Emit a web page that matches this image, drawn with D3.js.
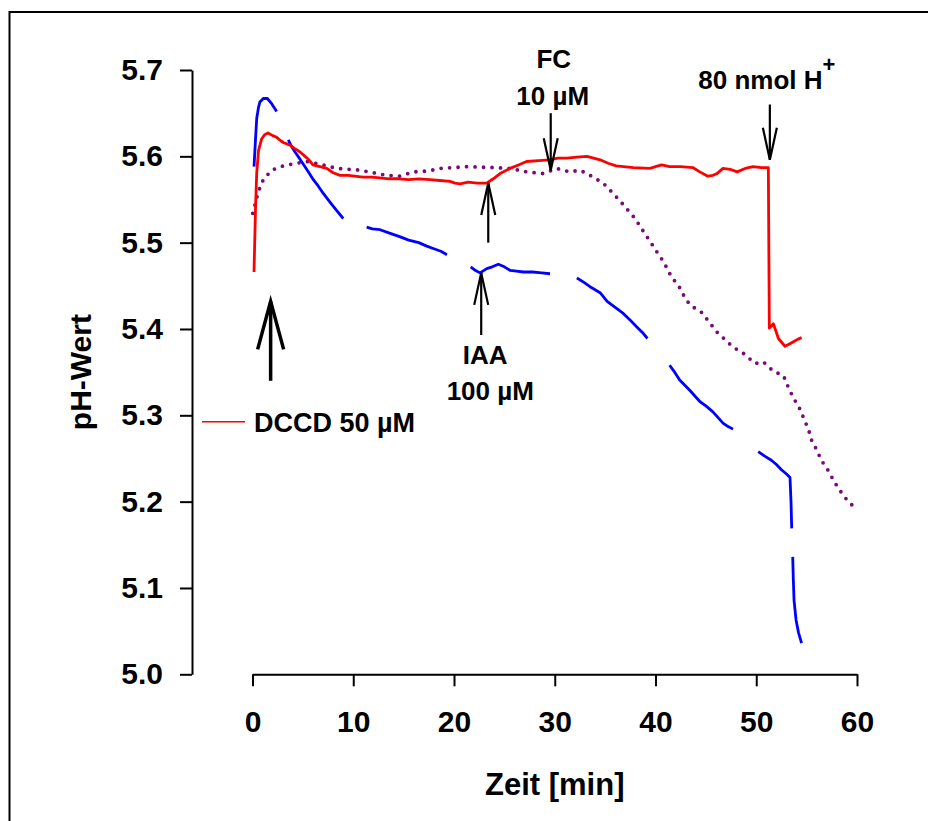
<!DOCTYPE html>
<html>
<head>
<meta charset="utf-8">
<script src="https://cdn.jsdelivr.net/npm/d3@7"></script>
<style>
  html, body { margin: 0; padding: 0; background: #fff; }
  svg { display: block; }
  text { font-family: "Liberation Sans", Arial, Helvetica, sans-serif; font-weight: bold; fill: #000; }
</style>
</head>
<body>
<svg id="chart" width="928" height="821"></svg>
<script>
// Time axis (min) and pH axis ticks
const timeTicks = [0, 10, 20, 30, 40, 50, 60];
const phTicks = [5.0, 5.1, 5.2, 5.3, 5.4, 5.5, 5.6, 5.7];

// DCCD 50 µM trace (red): [time, pH]
const dccd = [
  [0.15, 5.466], [0.30, 5.540], [0.42, 5.581], [0.60, 5.607], [0.90, 5.620],
  [1.20, 5.625], [1.54, 5.627], [2.00, 5.624], [2.40, 5.622], [2.80, 5.618],
  [3.06, 5.616], [3.72, 5.613], [4.20, 5.609], [4.72, 5.605], [5.21, 5.600],
  [5.60, 5.596], [6.00, 5.590], [6.70, 5.588], [7.37, 5.586], [8.00, 5.581],
  [8.69, 5.578], [9.50, 5.578], [10.97, 5.576], [11.8, 5.576], [12.65, 5.575],
  [13.5, 5.574], [14.5, 5.574], [15.5, 5.573], [16.5, 5.574], [17.6, 5.573],
  [18.6, 5.572], [19.6, 5.571], [20.1, 5.569], [20.6, 5.568], [21.4, 5.570],
  [22.3, 5.569], [23.25, 5.569], [23.9, 5.574], [24.57, 5.580], [25.56, 5.586],
  [26.4, 5.590], [27.2, 5.594], [28.4, 5.595], [29.5, 5.596], [30.3, 5.598],
  [31.2, 5.598], [32.2, 5.599], [33.2, 5.600], [34.5, 5.596], [35.3, 5.592],
  [36.1, 5.589], [37.8, 5.587], [39.45, 5.586], [40.0, 5.588], [40.6, 5.590],
  [41.4, 5.588], [42.5, 5.588], [43.7, 5.587], [44.4, 5.582], [45.2, 5.577],
  [45.7, 5.578], [46.1, 5.580], [46.7, 5.586], [47.4, 5.585], [48.1, 5.582],
  [48.9, 5.586], [49.7, 5.588], [50.5, 5.587], [51.2, 5.587], [51.3, 5.401],
  [51.7, 5.406], [52.0, 5.396], [52.2, 5.389], [52.85, 5.380], [53.2, 5.382],
  [53.65, 5.385], [54.1, 5.388], [54.5, 5.390]
];

// Control trace (blue), recorded in separate pieces: [time, pH]
const controlSegments = [
  [[0.15, 5.588], [0.30, 5.620], [0.42, 5.644], [0.60, 5.657], [0.74, 5.663],
   [1.07, 5.667], [1.47, 5.667], [1.90, 5.661], [2.40, 5.652]],
  [[3.55, 5.619], [3.90, 5.611], [4.22, 5.605], [4.70, 5.597], [5.21, 5.588],
   [5.60, 5.581], [6.04, 5.573], [6.50, 5.566], [7.03, 5.557], [7.69, 5.547],
   [8.30, 5.538], [9.01, 5.528]],
  [[11.33, 5.518], [11.9, 5.516], [12.66, 5.515], [13.6, 5.511], [14.6, 5.507],
   [15.5, 5.503], [16.5, 5.500], [17.3, 5.496], [18.0, 5.493], [18.7, 5.490],
   [19.3, 5.486]],
  [[21.66, 5.472], [22.1, 5.468], [22.58, 5.465], [23.25, 5.470], [23.8, 5.472],
   [24.4, 5.475], [25.0, 5.472], [25.56, 5.468], [26.2, 5.467], [26.88, 5.466],
   [27.8, 5.466], [28.7, 5.465], [29.53, 5.464]],
  [[32.2, 5.459], [32.9, 5.454], [33.5, 5.449], [34.5, 5.442], [35.2, 5.432],
   [36.0, 5.425], [36.8, 5.418], [37.5, 5.410], [38.1, 5.403], [38.7, 5.396],
   [39.2, 5.389]],
  [[41.4, 5.358], [41.9, 5.350], [42.4, 5.341], [43.4, 5.329], [44.4, 5.316],
   [45.0, 5.311], [45.7, 5.304], [46.7, 5.291], [47.2, 5.287], [47.7, 5.284]],
  [[50.2, 5.258], [50.8, 5.253], [51.5, 5.248], [52.0, 5.243], [52.5, 5.237],
   [53.0, 5.232], [53.35, 5.228], [53.45, 5.200], [53.52, 5.169]],
  [[53.62, 5.136], [53.68, 5.110], [53.75, 5.086], [53.95, 5.063], [54.2, 5.048],
   [54.5, 5.036]]
];

// IAA trace (purple, dotted): [time, pH]
const iaa = [
  [0.02, 5.534], [0.25, 5.544], [0.58, 5.559], [1.07, 5.573], [1.90, 5.584],
  [3.06, 5.589], [3.89, 5.591], [5.38, 5.594], [6.70, 5.591], [8.36, 5.586],
  [10.67, 5.584], [13.3, 5.578], [14.6, 5.577], [16.0, 5.582], [17.45, 5.583],
  [18.6, 5.586], [21.3, 5.588], [23.9, 5.587], [25.6, 5.586], [27.2, 5.582],
  [28.9, 5.580], [30.2, 5.586], [31.5, 5.582], [32.5, 5.584], [33.5, 5.578],
  [34.8, 5.569], [35.8, 5.557], [36.8, 5.544], [37.97, 5.528], [38.8, 5.513],
  [39.6, 5.499], [40.1, 5.490], [40.8, 5.478], [41.6, 5.460], [42.3, 5.450],
  [42.8, 5.439], [43.4, 5.428], [44.6, 5.419], [45.2, 5.410], [46.2, 5.395],
  [46.7, 5.390], [47.7, 5.379], [48.7, 5.372], [49.9, 5.360], [50.7, 5.362],
  [51.7, 5.351], [52.7, 5.346], [53.2, 5.332], [53.7, 5.320], [54.3, 5.308],
  [54.7, 5.297], [55.2, 5.283], [55.5, 5.271], [56.0, 5.260], [56.5, 5.247],
  [57.0, 5.239], [57.8, 5.222], [58.3, 5.213], [59.0, 5.202], [59.6, 5.195]
];

// Additions marked by arrows: time, tip pH, tail pH
const additions = [
  { t: 1.80,  tip: 5.432, tail: 5.340, dir: "up",   wide: true },
  { t: 22.7,  tip: 5.465, tail: 5.393, dir: "up",   wide: false },
  { t: 23.4,  tip: 5.569, tail: 5.500, dir: "up",   wide: false },
  { t: 29.6,  tip: 5.584, tail: 5.650, dir: "down", wide: false },
  { t: 51.35, tip: 5.596, tail: 5.660, dir: "down", wide: false }
];

const svg = d3.select("#chart");

// Outer frame
svg.append("rect")
  .attr("x", 9.5).attr("y", 12)
  .attr("width", 960).attr("height", 900)
  .attr("fill", "none").attr("stroke", "#000").attr("stroke-width", 2);

const x = d3.scaleLinear().domain([0, 60]).range([252.5, 857]);
const y = d3.scaleLinear().domain([5.0, 5.7]).range([674.3, 70]);

// y axis
const yAxis = svg.append("g")
  .attr("transform", "translate(192,0)")
  .call(d3.axisLeft(y).tickValues(phTicks).tickFormat(d3.format(".1f"))
    .tickSize(12).tickSizeOuter(0).tickPadding(17));

// x axis (offset from the y axis)
const xAxis = svg.append("g")
  .attr("transform", `translate(0,${y(5.0)})`)
  .call(d3.axisBottom(x).tickValues(timeTicks).tickFormat(d3.format("d"))
    .tickSize(12).tickSizeOuter(0).tickPadding(24));

[yAxis, xAxis].forEach(g => {
  g.selectAll("path, line").attr("stroke", "#000").attr("stroke-width", 2);
  g.selectAll("text")
    .style("font-family", '"Liberation Sans", Arial, sans-serif')
    .style("font-weight", "bold")
    .style("font-size", "30px")
    .attr("fill", "#000");
});

// Axis titles
svg.append("text")
  .attr("transform", `translate(91,${(y(5.0) + y(5.7)) / 2}) rotate(-90)`)
  .attr("text-anchor", "middle")
  .style("font-size", "30px")
  .text("pH-Wert");

svg.append("text")
  .attr("x", (x(0) + x(60)) / 2)
  .attr("y", 795)
  .attr("text-anchor", "middle")
  .style("font-size", "31px")
  .text("Zeit [min]");

const line = d3.line().x(d => x(d[0])).y(d => y(d[1]));

// IAA trace, dotted
svg.append("path")
  .datum(iaa)
  .attr("d", line)
  .attr("fill", "none")
  .attr("stroke", "#7a0a7a")
  .attr("stroke-width", 3.8)
  .attr("stroke-linecap", "round")
  .attr("stroke-dasharray", "0 8.5");

// Control trace
svg.append("g").selectAll("path")
  .data(controlSegments)
  .join("path")
  .attr("d", line)
  .attr("fill", "none")
  .attr("stroke", "#0000ff")
  .attr("stroke-width", 2.8)
  .attr("stroke-linejoin", "round");

// DCCD trace
svg.append("path")
  .datum(dccd)
  .attr("d", line)
  .attr("fill", "none")
  .attr("stroke", "#ff0000")
  .attr("stroke-width", 2.8)
  .attr("stroke-linejoin", "round");

// Arrows
const arrows = svg.append("g").attr("fill", "none").attr("stroke", "#000");
additions.forEach(a => {
  const px = x(a.t), yTip = y(a.tip), yTail = y(a.tail);
  const s = a.dir === "up" ? 1 : -1;
  const bw = a.wide ? 13 : 7, bl = a.wide ? 48 : 32;
  const sw = a.wide ? 3.5 : 2.2;
  arrows.append("line")
    .attr("x1", px).attr("y1", yTail).attr("x2", px).attr("y2", yTip)
    .attr("stroke-width", sw);
  arrows.append("path")
    .attr("d", `M${px - bw},${yTip + s * bl} L${px},${yTip} L${px + bw},${yTip + s * bl}`)
    .attr("stroke-width", sw)
    .attr("stroke-linejoin", "miter");
});

// Annotation labels
const notes = svg.append("g").style("font-size", "26px");
notes.append("text").attr("x", x(29.9)).attr("y", 68).attr("text-anchor", "middle").text("FC");
notes.append("text").attr("x", x(29.8)).attr("y", 105).attr("text-anchor", "middle").text("10 µM");
notes.append("text").attr("x", x(23.1)).attr("y", 364).attr("text-anchor", "middle").text("IAA");
notes.append("text").attr("x", x(23.6)).attr("y", 400).attr("text-anchor", "middle").text("100 µM");
const h = notes.append("text").attr("x", x(44.25)).attr("y", 89);
h.append("tspan").text("80 nmol H");
h.append("tspan").attr("dy", -17).style("font-size", "22px").text("+");

// Legend
svg.append("line")
  .attr("x1", 202).attr("x2", 245).attr("y1", 421.7).attr("y2", 421.7)
  .attr("stroke", "#ff0000").attr("stroke-width", 1.5);
svg.append("text")
  .attr("x", 254).attr("y", 432)
  .style("font-size", "27px")
  .text("DCCD 50 µM");
</script>
</body>
</html>
